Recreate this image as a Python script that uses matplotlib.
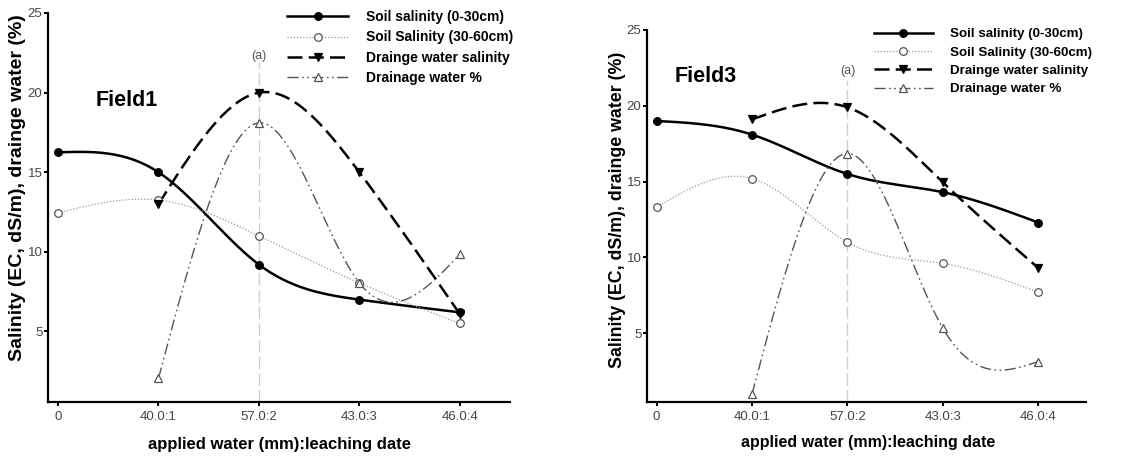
import numpy as np
import matplotlib
matplotlib.use("Agg")
import matplotlib.pyplot as plt
from matplotlib.lines import Line2D

plt.rcParams['font.family'] = ['Liberation Sans', 'DejaVu Sans']

x_labels = ["0", "40.0:1", "57.0:2", "43.0:3", "46.0:4"]
x_pos = [0, 1, 2, 3, 4]

# Field1
f1_soil_0_30 = [16.25, 15.0, 9.2, 7.0, 6.2]
f1_soil_30_60 = [12.45, 13.25, 11.0, 8.05, 5.5]
f1_drain_sal = [13.0, 20.0, 15.0, 6.1]        # at x = 1..4
f1_drain_pct = [2.05, 18.1, 8.05, 9.85]        # at x = 1..4

# Field3
f3_soil_0_30 = [19.0, 18.1, 15.5, 14.3, 12.3]
f3_soil_30_60 = [13.3, 15.2, 11.0, 9.6, 7.7]
f3_drain_sal = [19.1, 19.9, 14.95, 9.3]
f3_drain_pct = [0.97, 16.85, 5.33, 3.13]

legend_labels = ["Soil salinity (0-30cm)", "Soil Salinity (30-60cm)",
                 "Drainge water salinity", "Drainage water %"]


def natural_spline(x, y, n=200):
    x = np.asarray(x, float)
    y = np.asarray(y, float)
    m = len(x)
    h = np.diff(x)
    A = np.zeros((m, m))
    b = np.zeros(m)
    A[0, 0] = 1
    A[-1, -1] = 1
    for i in range(1, m - 1):
        A[i, i - 1] = h[i - 1]
        A[i, i] = 2 * (h[i - 1] + h[i])
        A[i, i + 1] = h[i]
        b[i] = 6 * ((y[i + 1] - y[i]) / h[i] - (y[i] - y[i - 1]) / h[i - 1])
    M = np.linalg.solve(A, b)
    xs = np.linspace(x[0], x[-1], n)
    ys = np.empty_like(xs)
    for k, xv in enumerate(xs):
        i = min(np.searchsorted(x, xv, side='right') - 1, m - 2)
        t0 = x[i + 1] - xv
        t1 = xv - x[i]
        ys[k] = (M[i] * t0 ** 3 + M[i + 1] * t1 ** 3) / (6 * h[i]) \
            + (y[i] / h[i] - M[i] * h[i] / 6) * t0 \
            + (y[i + 1] / h[i] - M[i + 1] * h[i] / 6) * t1
    return xs, ys


styles = [
    dict(color='black', lw=1.8, ls='-', marker='o', mfc='black', mec='black', ms=5.5),
    dict(color='#999999', lw=0.9, ls=(0, (1, 1.5)), marker='o', mfc='white', mec='#555555', ms=5.5),
    dict(color='black', lw=1.8, ls=(0, (6, 2.5)), marker='v', mfc='black', mec='black', ms=5.5),
    dict(color='#555555', lw=1.0, ls=(0, (8, 2.5, 1.2, 2.5, 1.2, 2.5)), marker='^', mfc='white', mec='#555555', ms=5.5),
]

fig = plt.figure(figsize=(11.48, 4.59), dpi=100)
W, H = 1148, 459


def make_panel(rect, series, title, title_xy, ylo, ylab_xy, xlab_xy, leg_xy, fs_lab, fs_ylab,
               fs_leg, lsp, aline_top, a_y):
    ax = fig.add_axes(rect)
    xs_list = [x_pos, x_pos, x_pos[1:], x_pos[1:]]
    for data, xx, st in zip(series, xs_list, styles):
        sx, sy = natural_spline(xx, data)
        ax.plot(sx, sy, color=st['color'], lw=st['lw'], ls=st['ls'], zorder=3)
        ax.plot(xx, data, ls='none', marker=st['marker'], mfc=st['mfc'],
                mec=st['mec'], ms=st['ms'], mew=0.9, zorder=4)
    ax.plot([2, 2], [ylo, aline_top], color='#cfcfcf', lw=1.0, ls=(0, (9, 3)), zorder=1)
    ax.text(2, a_y, "(a)", ha='center', va='center', fontsize=9, color='#555555')
    ax.set_xlim(-0.1, 4.5)
    ax.set_ylim(ylo, 25)
    ax.set_xticks(x_pos)
    ax.set_xticklabels(x_labels)
    ax.set_yticks([5, 10, 15, 20, 25])
    for s in ['top', 'right']:
        ax.spines[s].set_visible(False)
    for s in ['left', 'bottom']:
        ax.spines[s].set_linewidth(1.6)
    ax.tick_params(direction='out', length=3, width=1.4, labelsize=9.5,
                   labelcolor='#444444')
    ax.tick_params(axis='y', pad=1)
    ax.tick_params(axis='x', pad=3.5)
    ax.set_xlabel("applied water (mm):leaching date", fontsize=fs_lab, fontweight='bold', va='center')
    ax.set_ylabel("Salinity (EC, dS/m), drainge water (%)", fontsize=fs_ylab,
                  fontweight='bold', va='center')
    ax.xaxis.set_label_coords(*xlab_xy, transform=fig.transFigure)
    ax.yaxis.set_label_coords(*ylab_xy, transform=fig.transFigure)
    fig.text(title_xy[0], title_xy[1], title, fontsize=15.5, fontweight='bold',
             ha='center', va='center')
    handles = [Line2D([], [], color=st['color'], lw=st['lw'], ls=st['ls'], marker=st['marker'],
                      mfc=st['mfc'], mec=st['mec'], ms=st['ms'], mew=0.9) for st in styles]
    leg = ax.legend(handles, legend_labels, loc='upper left', bbox_to_anchor=leg_xy,
                    bbox_transform=fig.transFigure, frameon=False, fontsize=fs_leg,
                    handlelength=4.4, handletextpad=1.3, labelspacing=lsp,
                    borderpad=0, borderaxespad=0, numpoints=1)
    for t in leg.get_texts():
        t.set_fontweight('bold')
    return ax


px = lambda x: x / W
py = lambda y: 1 - y / H

# Left panel
make_panel([px(48), py(402), px(510) - px(48), py(13) - py(402)],
           [f1_soil_0_30, f1_soil_30_60, f1_drain_sal, f1_drain_pct],
           "Field1", (px(127), py(100)), 0.57,
           (px(17.5), py(188)), (px(280), py(445)), (px(287), py(10)),
           12, 14.0, 10, 0.46, 21.9, 22.3)

# Right panel
make_panel([px(647), py(402), px(1086) - px(647), py(30) - py(402)],
           [f3_soil_0_30, f3_soil_30_60, f3_drain_sal, f3_drain_pct],
           "Field3", (px(706), py(77)), 0.46,
           (px(618), py(210)), (px(868), py(442)), (px(874), py(28)),
           11.5, 12.8, 9.6, 0.45, 21.7, 22.3)

fig.savefig("out.png", dpi=100)
